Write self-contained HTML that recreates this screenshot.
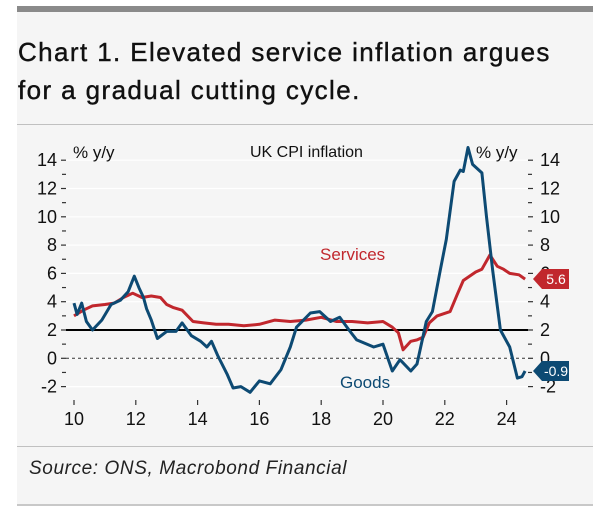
<!DOCTYPE html>
<html><head><meta charset="utf-8"><style>
body{margin:0;background:#fff;width:600px;height:514px;overflow:hidden;font-family:"Liberation Sans",sans-serif}
#panel{position:absolute;left:17px;top:6px;width:576px;height:498px;background:#f5f5f5;border-bottom:2px solid #c8c8c8}
#topbar{position:absolute;left:0;top:0;width:576px;height:6px;background:#8a8a8a}
#title{position:absolute;left:1px;top:27px;font-size:26px;line-height:38px;color:#111;letter-spacing:1.4px;-webkit-text-stroke:0.4px #111}
.rule{position:absolute;left:0;width:576px;height:1px;background:#c0c0c0}
#source{position:absolute;left:12px;top:452px;font-size:19px;font-style:italic;color:#222;letter-spacing:0.6px}
svg{position:absolute;left:0;top:0}
</style></head><body>
<div id="panel">
<div id="topbar"></div>
<div id="title">Chart 1. Elevated service inflation argues<br>for a gradual cutting cycle.</div>
<div class="rule" style="top:118px"></div>
<div class="rule" style="top:440px"></div>
<div id="source">Source: ONS, Macrobond Financial</div>
</div>
<svg id="chart" width="600" height="514"></svg>
<script>
const yTicks=[14,12,10,8,6,4,2,0,-2];
const xTicks=[10,12,14,16,18,20,22,24];
const servYears=[10.0,10.3,10.6,11.0,11.3,11.6,11.9,12.2,12.5,12.8,13.0,13.2,13.5,13.85,14.2,14.6,15.0,15.5,16.0,16.5,17.0,17.5,18.0,18.5,19.0,19.5,20.0,20.3,20.5,20.65,20.9,21.1,21.3,21.5,21.75,22.17,22.4,22.6,23.0,23.2,23.46,23.7,23.9,24.1,24.4,24.6];
const servVals=[3.0,3.4,3.7,3.8,3.9,4.3,4.6,4.3,4.4,4.3,3.8,3.6,3.4,2.6,2.5,2.4,2.4,2.3,2.4,2.7,2.6,2.7,2.9,2.6,2.6,2.5,2.6,2.2,1.8,0.6,1.2,1.3,1.5,2.5,3.0,3.3,4.5,5.5,6.1,6.3,7.3,6.5,6.3,6.0,5.9,5.6];
const goodsYears=[10.0,10.1,10.25,10.4,10.6,10.9,11.2,11.5,11.75,11.95,12.1,12.25,12.35,12.5,12.7,13.0,13.3,13.5,13.8,14.1,14.3,14.45,14.65,14.95,15.15,15.4,15.7,16.0,16.35,16.7,17.0,17.2,17.65,17.95,18.3,18.6,18.9,19.15,19.7,20.0,20.3,20.55,20.9,21.1,21.4,21.6,21.85,22.05,22.3,22.5,22.6,22.75,22.9,23.2,23.35,23.55,23.8,24.1,24.35,24.5,24.6];
const goodsVals=[3.9,3.1,3.9,2.6,2.0,2.7,3.8,4.1,4.7,5.8,5.0,4.3,3.5,2.7,1.4,1.9,1.9,2.5,1.6,1.2,0.8,1.2,0.2,-1.1,-2.1,-2.0,-2.4,-1.6,-1.8,-0.8,0.8,2.2,3.2,3.3,2.6,2.9,2.0,1.3,0.8,1.0,-0.9,-0.1,-0.9,-0.4,2.6,3.3,6.2,8.4,12.5,13.3,13.2,14.9,13.7,13.1,10.0,6.2,2.0,0.8,-1.4,-1.3,-0.9];
const NS="http://www.w3.org/2000/svg";
const svg=document.getElementById('chart');
const x0=74,pxYear=30.9,y0=358.3,pxUnit=14.15;
const X=v=>x0+(v-10)*pxYear, Y=v=>y0-v*pxUnit;
function mk(tag,attrs,parent){const e=document.createElementNS(NS,tag);for(const k in attrs)e.setAttribute(k,attrs[k]);(parent||svg).appendChild(e);return e;}
const F='"Liberation Sans",sans-serif';
yTicks.forEach(t=>{
  const g=mk('line',{x1:66,x2:528,y1:Y(t),y2:Y(t),stroke:'#ffffff','stroke-width':1.2});
  
  
  const l=mk('text',{x:57,y:Y(t)+6,'text-anchor':'end','font-size':18,'font-family':F,fill:'#111'});
  l.textContent=t;
  
  
  mk('line',{x1:61,x2:66,y1:Y(t),y2:Y(t),stroke:'#333','stroke-width':1.2});
  mk('line',{x1:528,x2:533,y1:Y(t),y2:Y(t),stroke:'#333','stroke-width':1.2});
  const r=mk('text',{x:540,y:Y(t)+6,'font-size':18,'font-family':F,fill:'#111'});
  r.textContent=t;
  
  
});
[13,11,9,7,5,3,1,-1].forEach(t=>{mk('line',{x1:62,x2:66,y1:Y(t),y2:Y(t),stroke:'#333','stroke-width':1.2});mk('line',{x1:528,x2:532,y1:Y(t),y2:Y(t),stroke:'#333','stroke-width':1.2});});
xTicks.forEach(t=>{
  mk('line',{x1:X(t),x2:X(t),y1:400,y2:405,stroke:'#333','stroke-width':1.2});
  const l=mk('text',{x:X(t),y:425,'text-anchor':'middle','font-size':18,'font-family':F,fill:'#111'});
  l.textContent=t;
  
  
});
const z=mk('line',{x1:66,x2:528,y1:Y(0),y2:Y(0),stroke:'#333','stroke-width':1,'stroke-dasharray':'3,3'});


const tl=mk('line',{x1:66,x2:528,y1:Y(2),y2:Y(2),stroke:'#000','stroke-width':2});


function path(xs,vs,col,name){const d=xs.map((x,i)=>(i?'L':'M')+X(x).toFixed(1)+','+Y(vs[i]).toFixed(1)).join('');const p=mk('path',{d:d,fill:'none',stroke:col,'stroke-width':3,'stroke-linejoin':'round'});}
path(servYears,servVals,'#c1272d','services-line');
path(goodsYears,goodsVals,'#0d4a73','goods-line');
function txt(s,x,y,size,col,name,anchor){const t=mk('text',{x:x,y:y,'font-size':size,'font-family':F,fill:col,'text-anchor':anchor||'start'});t.textContent=s;}
txt('% y/y',73,158,17,'#111','y-axis-title-left');
txt('% y/y',476,158,17,'#111','y-axis-title-right');
txt('UK CPI inflation',250,157,16,'#111','chart-subtitle');
txt('Services',320,260,17,'#c1272d','services-label');
txt('Goods',340,388,17,'#0d4a73','goods-label');
function badge(v,col,name){const y=Y(v);const g=mk('g',{});mk('path',{d:`M533,${y} L542,${y-10} L569,${y-10} L569,${y+10} L542,${y+10} Z`,fill:col},g);const t=mk('text',{x:556,y:y+5,'font-size':14,'font-family':F,fill:'#fff','text-anchor':'middle'},g);t.textContent=v.toFixed(1);}
badge(servVals[servVals.length-1],'#c1272d','services-last-value');
badge(goodsVals[goodsVals.length-1],'#0d4a73','goods-last-value');
</script>
</body></html>
